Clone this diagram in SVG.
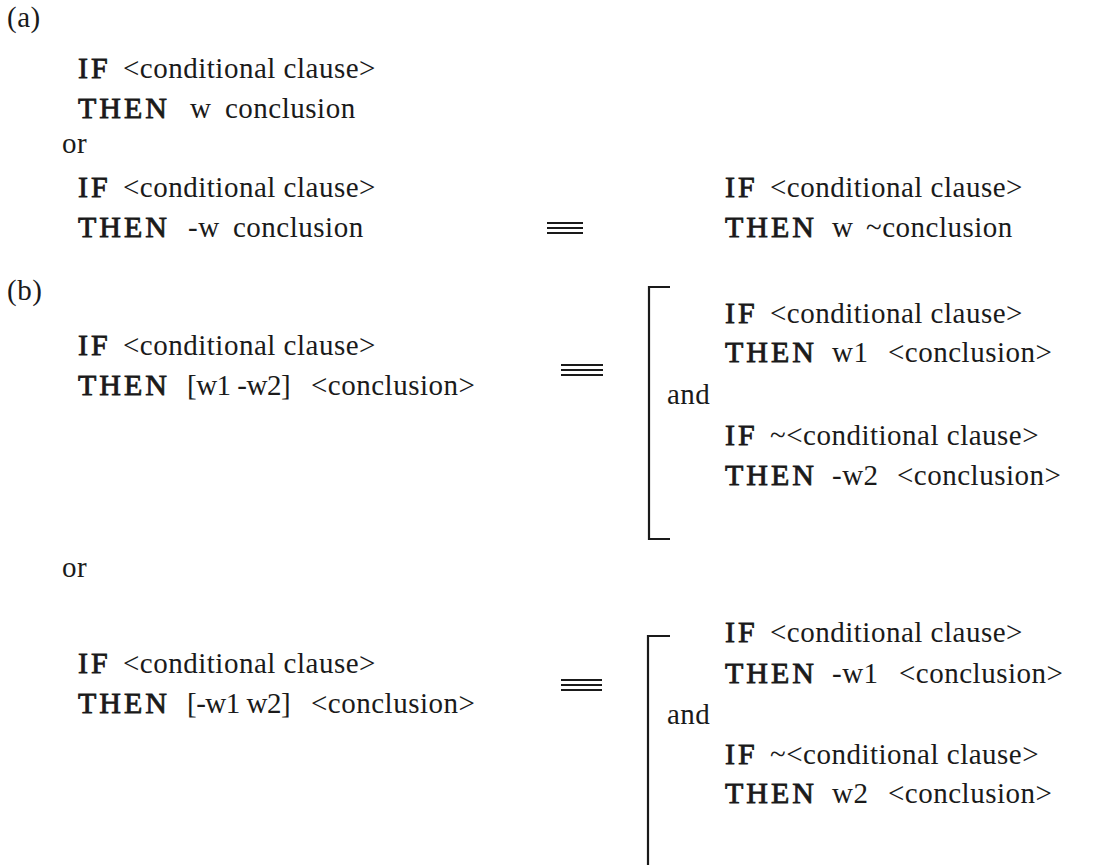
<svg xmlns="http://www.w3.org/2000/svg" width="1100" height="865" viewBox="0 0 1100 865">
  <style>
    text { font-family: "Liberation Serif", "Times New Roman", serif; font-size: 29px; letter-spacing: 0.5px; fill: #1a1a1a; }
    .kw { font-size: 30px; letter-spacing: 3px; stroke: #1a1a1a; stroke-width: 0.8px; }
    .wt { letter-spacing: -0.5px; }
    .eq line, .br { stroke: #1a1a1a; stroke-width: 2.2; fill: none; }
  </style>
  <rect width="1100" height="865" fill="#ffffff"/>

  <!-- part (a) -->
  <g id="label-a"><text x="7" y="27">(a)</text></g>
  <g id="a-rule-1">
    <text x="78" y="78"><tspan class="kw">IF</tspan><tspan x="123">&lt;conditional clause&gt;</tspan></text>
    <text x="78" y="118"><tspan class="kw">THEN</tspan><tspan x="190">w</tspan><tspan x="225">conclusion</tspan></text>
  </g>
  <g id="a-or"><text x="62" y="153">or</text></g>
  <g id="a-rule-2">
    <text x="78" y="197"><tspan class="kw">IF</tspan><tspan x="123">&lt;conditional clause&gt;</tspan></text>
    <text x="78" y="237"><tspan class="kw">THEN</tspan><tspan x="188">-w</tspan><tspan x="233">conclusion</tspan></text>
  </g>
  <g id="a-rule-equiv">
    <text x="725" y="197"><tspan class="kw">IF</tspan><tspan x="770">&lt;conditional clause&gt;</tspan></text>
    <text x="725" y="237"><tspan class="kw">THEN</tspan><tspan x="832">w</tspan><tspan x="866">~conclusion</tspan></text>
  </g>

  <!-- part (b) -->
  <g id="label-b"><text x="7" y="300">(b)</text></g>
  <g id="b-rule-1">
    <text x="78" y="355"><tspan class="kw">IF</tspan><tspan x="123">&lt;conditional clause&gt;</tspan></text>
    <text x="78" y="395"><tspan class="kw">THEN</tspan><tspan class="wt" x="187">[w1 -w2]</tspan><tspan x="311">&lt;conclusion&gt;</tspan></text>
  </g>
  <g id="b-rule-1-expanded">
    <text x="725" y="323"><tspan class="kw">IF</tspan><tspan x="770">&lt;conditional clause&gt;</tspan></text>
    <text x="725" y="362"><tspan class="kw">THEN</tspan><tspan x="832">w1</tspan><tspan x="888">&lt;conclusion&gt;</tspan></text>
    <text x="667" y="404">and</text>
    <text x="725" y="445"><tspan class="kw">IF</tspan><tspan x="770">~&lt;conditional clause&gt;</tspan></text>
    <text x="725" y="485"><tspan class="kw">THEN</tspan><tspan x="832">-w2</tspan><tspan x="897">&lt;conclusion&gt;</tspan></text>
  </g>
  <g id="b-or"><text x="62" y="577">or</text></g>
  <g id="b-rule-2">
    <text x="78" y="673"><tspan class="kw">IF</tspan><tspan x="123">&lt;conditional clause&gt;</tspan></text>
    <text x="78" y="713"><tspan class="kw">THEN</tspan><tspan class="wt" x="187">[-w1 w2]</tspan><tspan x="311">&lt;conclusion&gt;</tspan></text>
  </g>
  <g id="b-rule-2-expanded">
    <text x="725" y="642"><tspan class="kw">IF</tspan><tspan x="770">&lt;conditional clause&gt;</tspan></text>
    <text x="725" y="683"><tspan class="kw">THEN</tspan><tspan x="832">-w1</tspan><tspan x="899">&lt;conclusion&gt;</tspan></text>
    <text x="667" y="724">and</text>
    <text x="725" y="764"><tspan class="kw">IF</tspan><tspan x="770">~&lt;conditional clause&gt;</tspan></text>
    <text x="725" y="803"><tspan class="kw">THEN</tspan><tspan x="832">w2</tspan><tspan x="888">&lt;conclusion&gt;</tspan></text>
  </g>

  <!-- equivalence signs and brackets -->
  <g id="connectors">
    <g class="eq" id="equiv-a">
      <line x1="547" y1="223" x2="583" y2="223"/>
      <line x1="547" y1="228" x2="583" y2="228"/>
      <line x1="547" y1="233" x2="583" y2="233"/>
    </g>
    <g class="eq" id="equiv-b1">
      <line x1="561" y1="365" x2="603" y2="365"/>
      <line x1="561" y1="370" x2="603" y2="370"/>
      <line x1="561" y1="375" x2="603" y2="375"/>
    </g>
    <g class="eq" id="equiv-b2">
      <line x1="561" y1="680" x2="602" y2="680"/>
      <line x1="561" y1="685" x2="602" y2="685"/>
      <line x1="561" y1="690" x2="602" y2="690"/>
    </g>
    <path class="br" id="bracket-b1" d="M670,287 H649 V539 H670"/>
    <path class="br" id="bracket-b2" d="M670,636 H648 V866"/>
  </g>
</svg>
